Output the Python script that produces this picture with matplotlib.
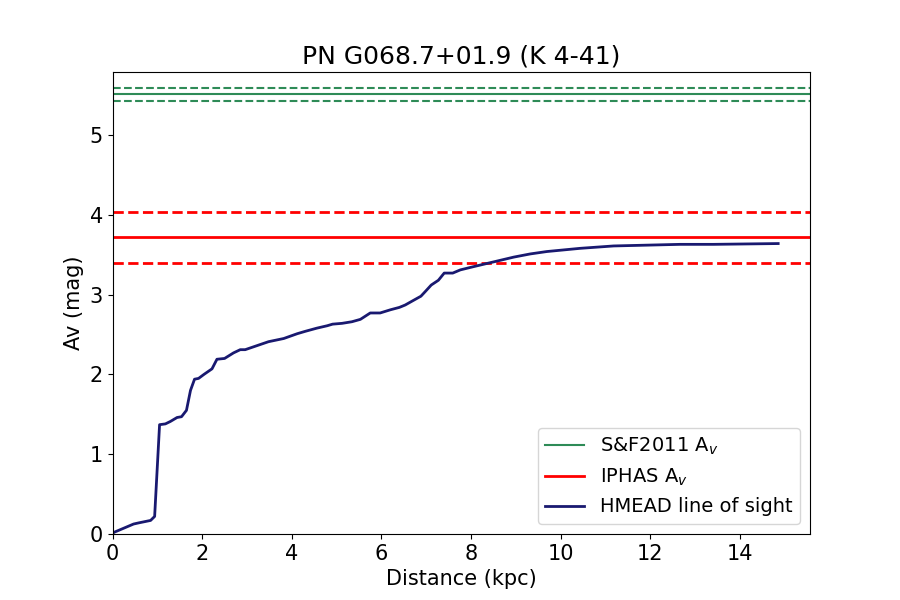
import matplotlib
matplotlib.use("Agg")
import matplotlib.pyplot as plt

# HMEAD line of sight extinction profile
dist_kpc = [0.0, 0.03, 0.47, 0.59, 0.85, 0.94, 1.05, 1.18, 1.29, 1.44, 1.54, 1.65,
            1.74, 1.83, 1.92, 2.04, 2.22, 2.33, 2.50, 2.70, 2.85, 2.96, 3.22,
            3.48, 3.82, 4.12, 4.30, 4.56, 4.79, 4.91, 5.12, 5.34, 5.53, 5.75,
            5.97, 6.20, 6.40, 6.53, 6.72, 6.88, 6.98, 7.11, 7.27, 7.40, 7.59,
            7.76, 8.05, 8.35, 8.65, 8.95, 9.32, 9.69, 10.43, 11.18, 11.92,
            12.66, 13.40, 14.85]
av_mag = [0.0, 0.02, 0.125, 0.14, 0.17, 0.22, 1.37, 1.38, 1.41, 1.46, 1.47, 1.55,
          1.80, 1.94, 1.95, 2.00, 2.07, 2.19, 2.20, 2.27, 2.31, 2.31, 2.36,
          2.41, 2.45, 2.51, 2.54, 2.58, 2.61, 2.63, 2.64, 2.66, 2.69, 2.77,
          2.77, 2.81, 2.84, 2.87, 2.93, 2.98, 3.04, 3.12, 3.18, 3.27, 3.27,
          3.31, 3.35, 3.39, 3.43, 3.47, 3.51, 3.54, 3.58, 3.61, 3.62,
          3.63, 3.63, 3.64]

sf_av, sf_err = 5.51, 0.08
iphas_av, iphas_err = 3.72, 0.32

plt.rcParams['font.size'] = 15

fig = plt.figure(figsize=(9, 6), dpi=100)
ax = fig.add_subplot(111)

ax.axhline(sf_av, color='seagreen', lw=1.5, label='S&F2011 A$_v$')
ax.axhline(sf_av + sf_err, color='seagreen', lw=1.5, ls='--')
ax.axhline(sf_av - sf_err, color='seagreen', lw=1.5, ls='--')

ax.axhline(iphas_av, color='red', lw=2, label='IPHAS A$_v$')
ax.axhline(iphas_av + iphas_err, color='red', lw=2, ls='--')
ax.axhline(iphas_av - iphas_err, color='red', lw=2, ls='--')

ax.plot(dist_kpc, av_mag, color='midnightblue', lw=2, label='HMEAD line of sight')

ax.set_xlim(0, 15.56)
ax.set_ylim(0, 5.79)
ax.set_xlabel('Distance (kpc)')
ax.set_ylabel('Av (mag)')
ax.set_title('PN G068.7+01.9 (K 4-41)', fontsize=18)
ax.legend(loc='lower right', fontsize=14)

fig.savefig('out.png')
